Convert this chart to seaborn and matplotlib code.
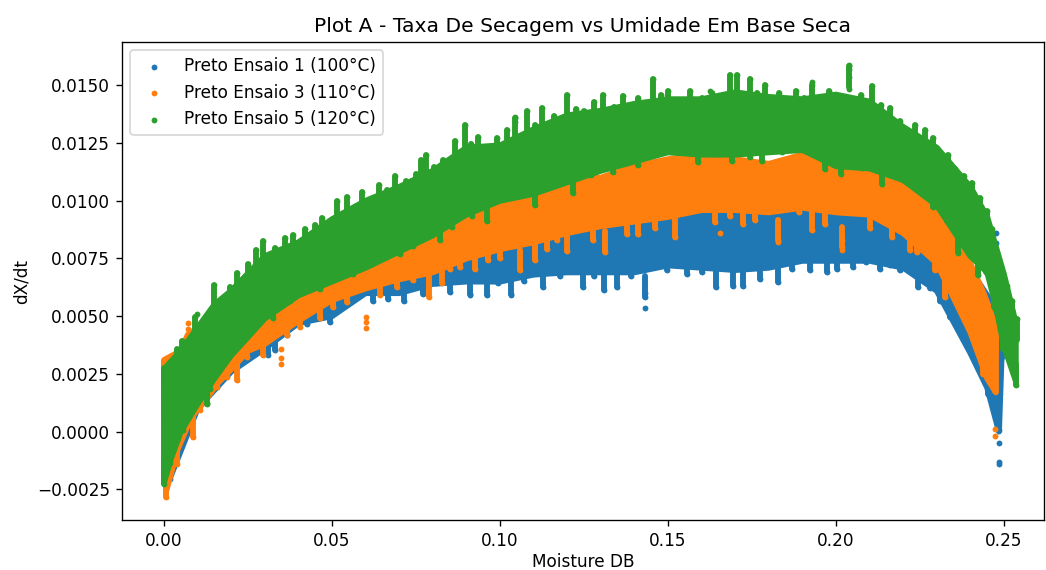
import numpy as np
import matplotlib
matplotlib.use('Agg')
import matplotlib.pyplot as plt
import seaborn as sns

# valores lidos do grafico, y em unidades de 1e-3
# _pico = colunas de pontos que saem da faixa, _miolo = contorno da parte cheia
azul_x_pico_topo = [0.0, 0.005, 0.0125, 0.02, 0.035, 0.05, 0.075, 0.1, 0.125, 0.15, 0.175, 0.2, 0.22, 0.232, 0.24, 0.245, 0.2485, 0.2495]
azul_y_pico_topo = [2.8, 3.4, 4.6, 5.3, 6.0, 7.0, 8.3, 9.0, 9.5, 9.7, 9.8, 9.9, 9.3, 8.2, 7.0, 5.9, 5.0, 4.2]
azul_x_pico_base = [0.0018, 0.0157, 0.0235, 0.026, 0.031, 0.033, 0.0366, 0.0426, 0.0494, 0.0518, 0.0563, 0.0622, 0.0667, 0.0714, 0.0771, 0.081, 0.0851, 0.088, 0.0911, 0.0961, 0.0995, 0.1033, 0.107, 0.1128, 0.118, 0.1247, 0.128, 0.131, 0.1348, 0.139, 0.1432, 0.1497, 0.1557, 0.16, 0.1643, 0.1693, 0.1723, 0.1774, 0.1827, 0.187, 0.1923, 0.1973, 0.2003, 0.205, 0.209, 0.2131, 0.216, 0.219, 0.2244, 0.228, 0.231, 0.234, 0.2363, 0.2393, 0.2417, 0.2452, 0.2485]
azul_y_pico_base = [-2.2, 1.8, 2.95, 3.2, 3.2, 3.4, 4.05, 4.55, 4.6, 5.25, 5.8, 5.55, 5.6, 5.55, 5.85, 6.3, 5.9, 6.4, 5.85, 5.8, 6.3, 5.85, 6.4, 6.15, 6.6, 6.15, 6.6, 6.0, 6.15, 6.6, 5.7, 6.85, 6.7, 6.8, 6.15, 6.2, 6.2, 6.5, 6.35, 6.9, 6.85, 6.8, 6.9, 7.0, 7.2, 6.9, 7.1, 6.85, 6.15, 6.1, 5.55, 4.85, 4.6, 3.6, 2.9, 1.5, -0.05]
azul_x_miolo_base = [0.0018, 0.01, 0.02, 0.03, 0.04, 0.05, 0.06, 0.07, 0.08, 0.09, 0.1, 0.11, 0.12, 0.13, 0.14, 0.15, 0.16, 0.17, 0.18, 0.19, 0.2, 0.21, 0.22, 0.23, 0.24, 0.245, 0.2485]
azul_y_miolo_base = [-2.0, 1.0, 2.6, 3.6, 4.7, 5.0, 6.0, 6.0, 6.4, 6.5, 6.5, 6.8, 6.9, 6.9, 6.9, 7.2, 7.1, 7.0, 7.1, 7.4, 7.4, 7.4, 7.1, 6.1, 3.4, 1.9, 0.0]
azul_x_solto = [0.1432, 0.1432, 0.0911, 0.0911, 0.1033, 0.2485, 0.2485, 0.2485, 0.2475, 0.2475]
azul_y_solto = [6.0, 5.35, 6.65, 5.9, 5.9, -0.5, -1.3, -1.4, 8.6, 8.15]

laranja_x_pico_topo = [0.0, 0.005, 0.0071, 0.02, 0.05, 0.075, 0.09, 0.1, 0.11, 0.12, 0.13, 0.14, 0.15, 0.16, 0.17, 0.18, 0.19, 0.2, 0.21, 0.22, 0.23, 0.2362, 0.2402, 0.2432, 0.2447, 0.2462, 0.2476]
laranja_y_pico_topo = [3.1, 3.5, 4.2, 5.5, 7.5, 8.8, 9.6, 10.5, 11.2, 11.0, 11.0, 11.5, 11.8, 12.0, 11.8, 11.6, 12.0, 12.1, 11.6, 10.8, 9.7, 8.3, 7.2, 6.25, 5.7, 5.1, 4.5]
laranja_x_pico_base = [0.0006, 0.0039, 0.0086, 0.0107, 0.0137, 0.0157, 0.0187, 0.0217, 0.0247, 0.0295, 0.0366, 0.0405, 0.0464, 0.0503, 0.0545, 0.0643, 0.0693, 0.074, 0.079, 0.0827, 0.085, 0.088, 0.0926, 0.0965, 0.1, 0.106, 0.1104, 0.114, 0.117, 0.12, 0.1277, 0.1313, 0.1378, 0.141, 0.146, 0.152, 0.1571, 0.164, 0.1685, 0.1723, 0.1759, 0.1827, 0.189, 0.193, 0.1967, 0.2018, 0.2062, 0.21, 0.2166, 0.222, 0.224, 0.2295, 0.2325, 0.236, 0.239, 0.2438, 0.2473]
laranja_y_pico_base = [-2.95, -1.55, -0.35, 0.8, 1.6, 1.8, 2.25, 2.1, 3.1, 3.2, 4.05, 4.4, 4.8, 5.25, 5.5, 5.8, 6.15, 6.45, 5.7, 6.3, 6.9, 7.0, 6.9, 7.3, 7.4, 6.85, 7.3, 7.8, 8.15, 7.7, 8.15, 7.65, 8.45, 8.45, 8.7, 8.3, 9.6, 8.95, 9.2, 8.85, 9.05, 8.15, 9.4, 8.6, 8.85, 7.85, 9.45, 8.7, 8.3, 7.75, 7.65, 6.85, 5.7, 5.4, 4.7, 2.35, 1.65]
laranja_x_miolo_base = [0.0006, 0.004, 0.008, 0.012, 0.016, 0.02, 0.025, 0.03, 0.04, 0.05, 0.06, 0.07, 0.08, 0.09, 0.1, 0.11, 0.12, 0.13, 0.14, 0.15, 0.16, 0.17, 0.18, 0.19, 0.2, 0.21, 0.22, 0.23, 0.24, 0.245, 0.2476]
laranja_y_miolo_base = [-2.6, -0.8, 0.6, 1.3, 2.1, 2.7, 3.5, 3.8, 4.8, 5.7, 6.2, 6.6, 6.9, 7.5, 7.9, 8.2, 8.6, 8.9, 9.1, 9.3, 9.6, 9.6, 9.5, 9.7, 9.5, 9.4, 8.6, 7.3, 4.3, 2.3, 1.7]
laranja_x_solto = [0.0071, 0.0071, 0.0348, 0.0348, 0.0348, 0.06, 0.06, 0.06, 0.104, 0.104, 0.1827, 0.2018, 0.2018, 0.1655, 0.2473, 0.2473]
laranja_y_solto = [4.7, 4.45, 3.6, 3.2, 2.95, 4.95, 4.75, 4.5, 11.0, 10.55, 8.2, 8.3, 7.85, 8.6, 0.1, -0.2]

verde_x_pico_topo = [0.0, 0.004, 0.0055, 0.0092, 0.0116, 0.015, 0.0196, 0.0217, 0.025, 0.0275, 0.0295, 0.033, 0.036, 0.0385, 0.042, 0.045, 0.047, 0.0515, 0.0545, 0.059, 0.0615, 0.064, 0.0665, 0.0688, 0.072, 0.075, 0.0765, 0.078, 0.0805, 0.083, 0.0865, 0.0896, 0.0915, 0.0935, 0.0965, 0.099, 0.102, 0.1045, 0.108, 0.1105, 0.1125, 0.116, 0.12, 0.1225, 0.125, 0.128, 0.1307, 0.134, 0.1366, 0.141, 0.1455, 0.148, 0.15, 0.153, 0.1565, 0.16, 0.163, 0.1685, 0.1705, 0.1744, 0.1765, 0.179, 0.183, 0.188, 0.1905, 0.193, 0.1955, 0.198, 0.201, 0.204, 0.2075, 0.2107, 0.2135, 0.216, 0.219, 0.2235, 0.2265, 0.229, 0.2333, 0.2355, 0.238, 0.2405, 0.2429, 0.245, 0.2465, 0.247, 0.249, 0.251, 0.2525, 0.2539]
verde_y_pico_topo = [2.9, 3.7, 4.05, 5.1, 4.8, 6.5, 6.4, 7.0, 7.4, 8.0, 8.4, 8.1, 8.5, 8.65, 8.9, 9.1, 9.4, 10.1, 10.3, 10.5, 10.2, 10.8, 10.6, 11.2, 11.0, 11.3, 11.9, 12.1, 11.6, 11.9, 12.7, 13.4, 12.6, 12.9, 12.4, 12.85, 13.2, 13.7, 14.0, 13.4, 14.15, 13.8, 14.7, 14.1, 14.0, 14.4, 14.7, 14.2, 14.65, 14.6, 15.4, 14.7, 14.9, 14.5, 14.9, 14.6, 14.8, 15.6, 15.6, 15.4, 14.8, 15.15, 14.8, 14.9, 14.6, 15.15, 14.5, 14.9, 14.6, 15.95, 14.7, 15.1, 14.3, 14.15, 13.6, 13.4, 13.2, 12.85, 12.1, 11.5, 11.2, 10.9, 10.25, 9.7, 8.9, 7.75, 7.2, 6.45, 5.8, 5.0]
verde_x_pico_base = [0.0, 0.0018, 0.004, 0.0057, 0.0086, 0.0127, 0.0137, 0.0167, 0.0217, 0.0247, 0.0286, 0.0325, 0.0375, 0.042, 0.0464, 0.051, 0.0563, 0.0702, 0.074, 0.0777, 0.082, 0.0857, 0.0917, 0.096, 0.1, 0.105, 0.1104, 0.1158, 0.1217, 0.127, 0.1336, 0.141, 0.1467, 0.152, 0.159, 0.1645, 0.169, 0.1744, 0.178, 0.184, 0.1893, 0.1967, 0.2015, 0.2077, 0.2137, 0.22, 0.224, 0.229, 0.233, 0.2363, 0.2423, 0.2447, 0.247, 0.2497, 0.2518, 0.2535]
verde_y_pico_base = [-2.4, -1.5, -0.5, -0.05, 0.95, 1.05, 1.7, 2.7, 3.75, 3.95, 4.7, 4.8, 5.55, 6.0, 6.05, 6.6, 6.7, 7.55, 7.9, 8.3, 8.15, 8.75, 9.2, 9.0, 10.0, 10.3, 9.7, 10.9, 10.2, 11.0, 11.1, 11.4, 12.05, 12.05, 11.55, 11.9, 11.6, 11.75, 11.6, 12.0, 12.5, 11.25, 11.05, 11.3, 10.6, 10.75, 10.45, 9.6, 9.0, 7.65, 6.65, 6.8, 5.25, 3.45, 3.4, 1.9]
verde_x_miolo_topo = [0.0, 0.005, 0.01, 0.015, 0.02, 0.03, 0.04, 0.05, 0.06, 0.07, 0.08, 0.09, 0.1, 0.11, 0.12, 0.13, 0.14, 0.15, 0.16, 0.17, 0.18, 0.19, 0.2, 0.21, 0.22, 0.23, 0.24, 0.245, 0.25, 0.2535]
verde_y_miolo_topo = [2.7, 3.5, 4.5, 5.5, 6.1, 7.6, 8.2, 9.2, 10.0, 10.6, 11.3, 12.3, 12.4, 13.1, 13.7, 13.9, 14.2, 14.4, 14.4, 14.7, 14.5, 14.4, 14.6, 14.3, 13.2, 12.3, 10.6, 9.3, 6.8, 4.7]
verde_x_miolo_base = [0.0, 0.002, 0.005, 0.01, 0.015, 0.02, 0.03, 0.04, 0.05, 0.06, 0.07, 0.08, 0.09, 0.1, 0.11, 0.12, 0.13, 0.14, 0.15, 0.16, 0.17, 0.18, 0.19, 0.2, 0.21, 0.22, 0.23, 0.24, 0.245, 0.2475, 0.25, 0.2535]
verde_y_miolo_base = [-2.2, -1.2, 0.0, 1.2, 2.3, 3.3, 4.9, 5.9, 6.5, 7.1, 7.8, 8.5, 9.4, 10.0, 10.3, 10.8, 11.3, 11.7, 12.1, 12.0, 12.0, 12.1, 12.2, 11.5, 11.4, 10.9, 9.8, 7.6, 6.9, 5.5, 3.7, 2.2]
verde_x_solto = [0.204, 0.204, 0.204, 0.204, 0.193, 0.193, 0.1625, 0.1045, 0.1045, 0.0098, 0.0127, 0.0127, 0.2363, 0.2363]
verde_y_solto = [15.9, 15.7, 15.35, 14.85, 15.15, 14.6, 14.75, 13.65, 13.4, 5.1, 1.25, 1.6, 8.3, 7.75]

series = [
    ('Preto Ensaio 1 (100°C)', '#1f77b4', azul_x_pico_topo, azul_y_pico_topo, azul_x_pico_base, azul_y_pico_base,
     azul_x_pico_topo, azul_y_pico_topo, azul_x_miolo_base, azul_y_miolo_base, azul_x_solto, azul_y_solto),
    ('Preto Ensaio 3 (110°C)', '#ff7f0e', laranja_x_pico_topo, laranja_y_pico_topo, laranja_x_pico_base, laranja_y_pico_base,
     laranja_x_pico_topo, laranja_y_pico_topo, laranja_x_miolo_base, laranja_y_miolo_base, laranja_x_solto, laranja_y_solto),
    ('Preto Ensaio 5 (120°C)', '#2ca02c', verde_x_pico_topo, verde_y_pico_topo, verde_x_pico_base, verde_y_pico_base,
     verde_x_miolo_topo, verde_y_miolo_topo, verde_x_miolo_base, verde_y_miolo_base, verde_x_solto, verde_y_solto),
]

raio = 0.13  # os picos foram lidos na borda do ponto, nao no centro
stem = 0.9
dpi = 121.5

fig = plt.figure(figsize=(1046 / dpi, 570 / dpi), dpi=dpi)
ax = fig.add_axes([122 / 1046, 50 / 570, 922 / 1046, 478 / 570])

for i, (nome, cor, xt, yt, xb, yb, xmt, ymt, xmb, ymb, xs, ys) in enumerate(series):
    z = 2 + i
    xt, yt, xb, yb = np.array(xt), np.array(yt) - raio, np.array(xb), np.array(yb) + raio
    xmt, ymt, xmb, ymb = np.array(xmt), np.array(ymt), np.array(xmb), np.array(ymb)
    # parte cheia da nuvem, os pontos se sobrepoem
    ax.fill(np.r_[xmt, xmb[::-1]], np.r_[ymt, ymb[::-1]] / 1000, facecolor=cor, edgecolor=cor,
            linewidth=3.5, joinstyle='round', zorder=z)
    # colunas de pontos nas bordas
    ax.vlines(xt, yt / 1000, (yt - stem) / 1000, color=cor, linewidth=3.5, capstyle='round', zorder=z)
    ax.vlines(xb, yb / 1000, (yb + stem) / 1000, color=cor, linewidth=3.5, capstyle='round', zorder=z)
    px = np.r_[xt, xb, np.array(xs)]
    py = np.r_[yt, yb, np.array(ys)] / 1000
    sns.scatterplot(x=px, y=py, s=12, color=cor, linewidth=0, label=nome, ax=ax, zorder=z)

ax.set_xlim(-0.0125, 0.2619)
ax.set_ylim(-0.00383, 0.01688)
ax.set_title('Plot A - Taxa De Secagem vs Umidade Em Base Seca')
ax.set_xlabel('Moisture DB', labelpad=2)
ax.set_ylabel('dX/dt')
ax.legend(loc='upper left')
fig.savefig('out.png', dpi=dpi)
